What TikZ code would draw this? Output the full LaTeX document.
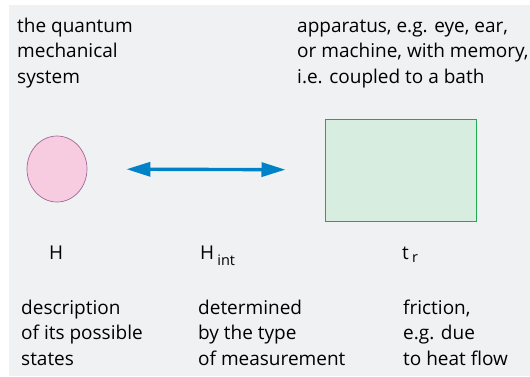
\documentclass[tikz,border=0pt]{standalone}
\usepackage{fontspec}
\setmainfont{Open Sans}
\usetikzlibrary{arrows.meta,shapes.geometric}

\definecolor{grund}{HTML}{F0F1F3}
\definecolor{rosa}{HTML}{F8CCE0}
\definecolor{lila}{HTML}{A0689A}
\definecolor{mint}{HTML}{D7EDDF}
\definecolor{gruen}{HTML}{1DAA50}
\definecolor{blau}{HTML}{0082C8}

\begin{document}
\begin{tikzpicture}[
      x=1pt, y=-1pt,
      beschriftung/.style={anchor=base west, inner sep=0pt, align=left,
        font=\fontsize{19}{25.5}\selectfont},
      symbol/.style={anchor=base west, inner sep=0pt,
        font=\fontsize{19}{22}\selectfont},
      system/.style={ellipse, draw=lila, fill=rosa, line width=0.7pt,
        minimum width=60pt, minimum height=66pt, inner sep=0pt},
      apparat/.style={rectangle, draw=gruen, fill=mint, line width=1pt,
        minimum width=151pt, minimum height=102pt, inner sep=0pt},
      kopplung/.style={{Triangle[length=24pt,width=14pt]}-{Triangle[length=24pt,width=14pt]},
        blau, line width=3.4pt}
    ]
    \def\tief{\fontsize{14.5}{14.5}\selectfont}   % Indexschrift
    \useasboundingbox (0,0) rectangle (530,376);
    \fill[grund] (9,5) rectangle (530,376);

    % ---------- obere Zeile (Grundlinie der letzten Zeile) ----------
    \node[beschriftung] (sysname) at (17,83) {the quantum\\mechanical\\system};
    \node[beschriftung] (appname) at (297,83) {apparatus, e.g. eye, ear,\\or machine, with memory,\\i.e. coupled to a bath};

    % ---------- Objekte ----------
    \node[system]  (sys) at (57,169) {};
    \node[apparat] (app) at (400.5,170) {};
    \draw[kopplung, shorten <=39pt, shorten >=39pt] (sys) -- (app);

    % ---------- Symbole ----------
    \node[symbol] (h)    at (49,259)  {H};
    \node[symbol] (hint) at (200,259) {H\,\raisebox{-6pt}{\tief int}};
    \node[symbol] (tr)   at (402,259) {t\,\raisebox{-3pt}{\tief r}};

    % ---------- untere Zeile ----------
    \node[beschriftung] (hbeschr) at (21,365)  {description\\of its possible\\states};
    \node[beschriftung] (ibeschr) at (198,365) {determined\\by the type\\of measurement};
    \node[beschriftung] (tbeschr) at (403,365) {friction,\\e.g. due\\to heat flow};
  \end{tikzpicture}
\end{document}
